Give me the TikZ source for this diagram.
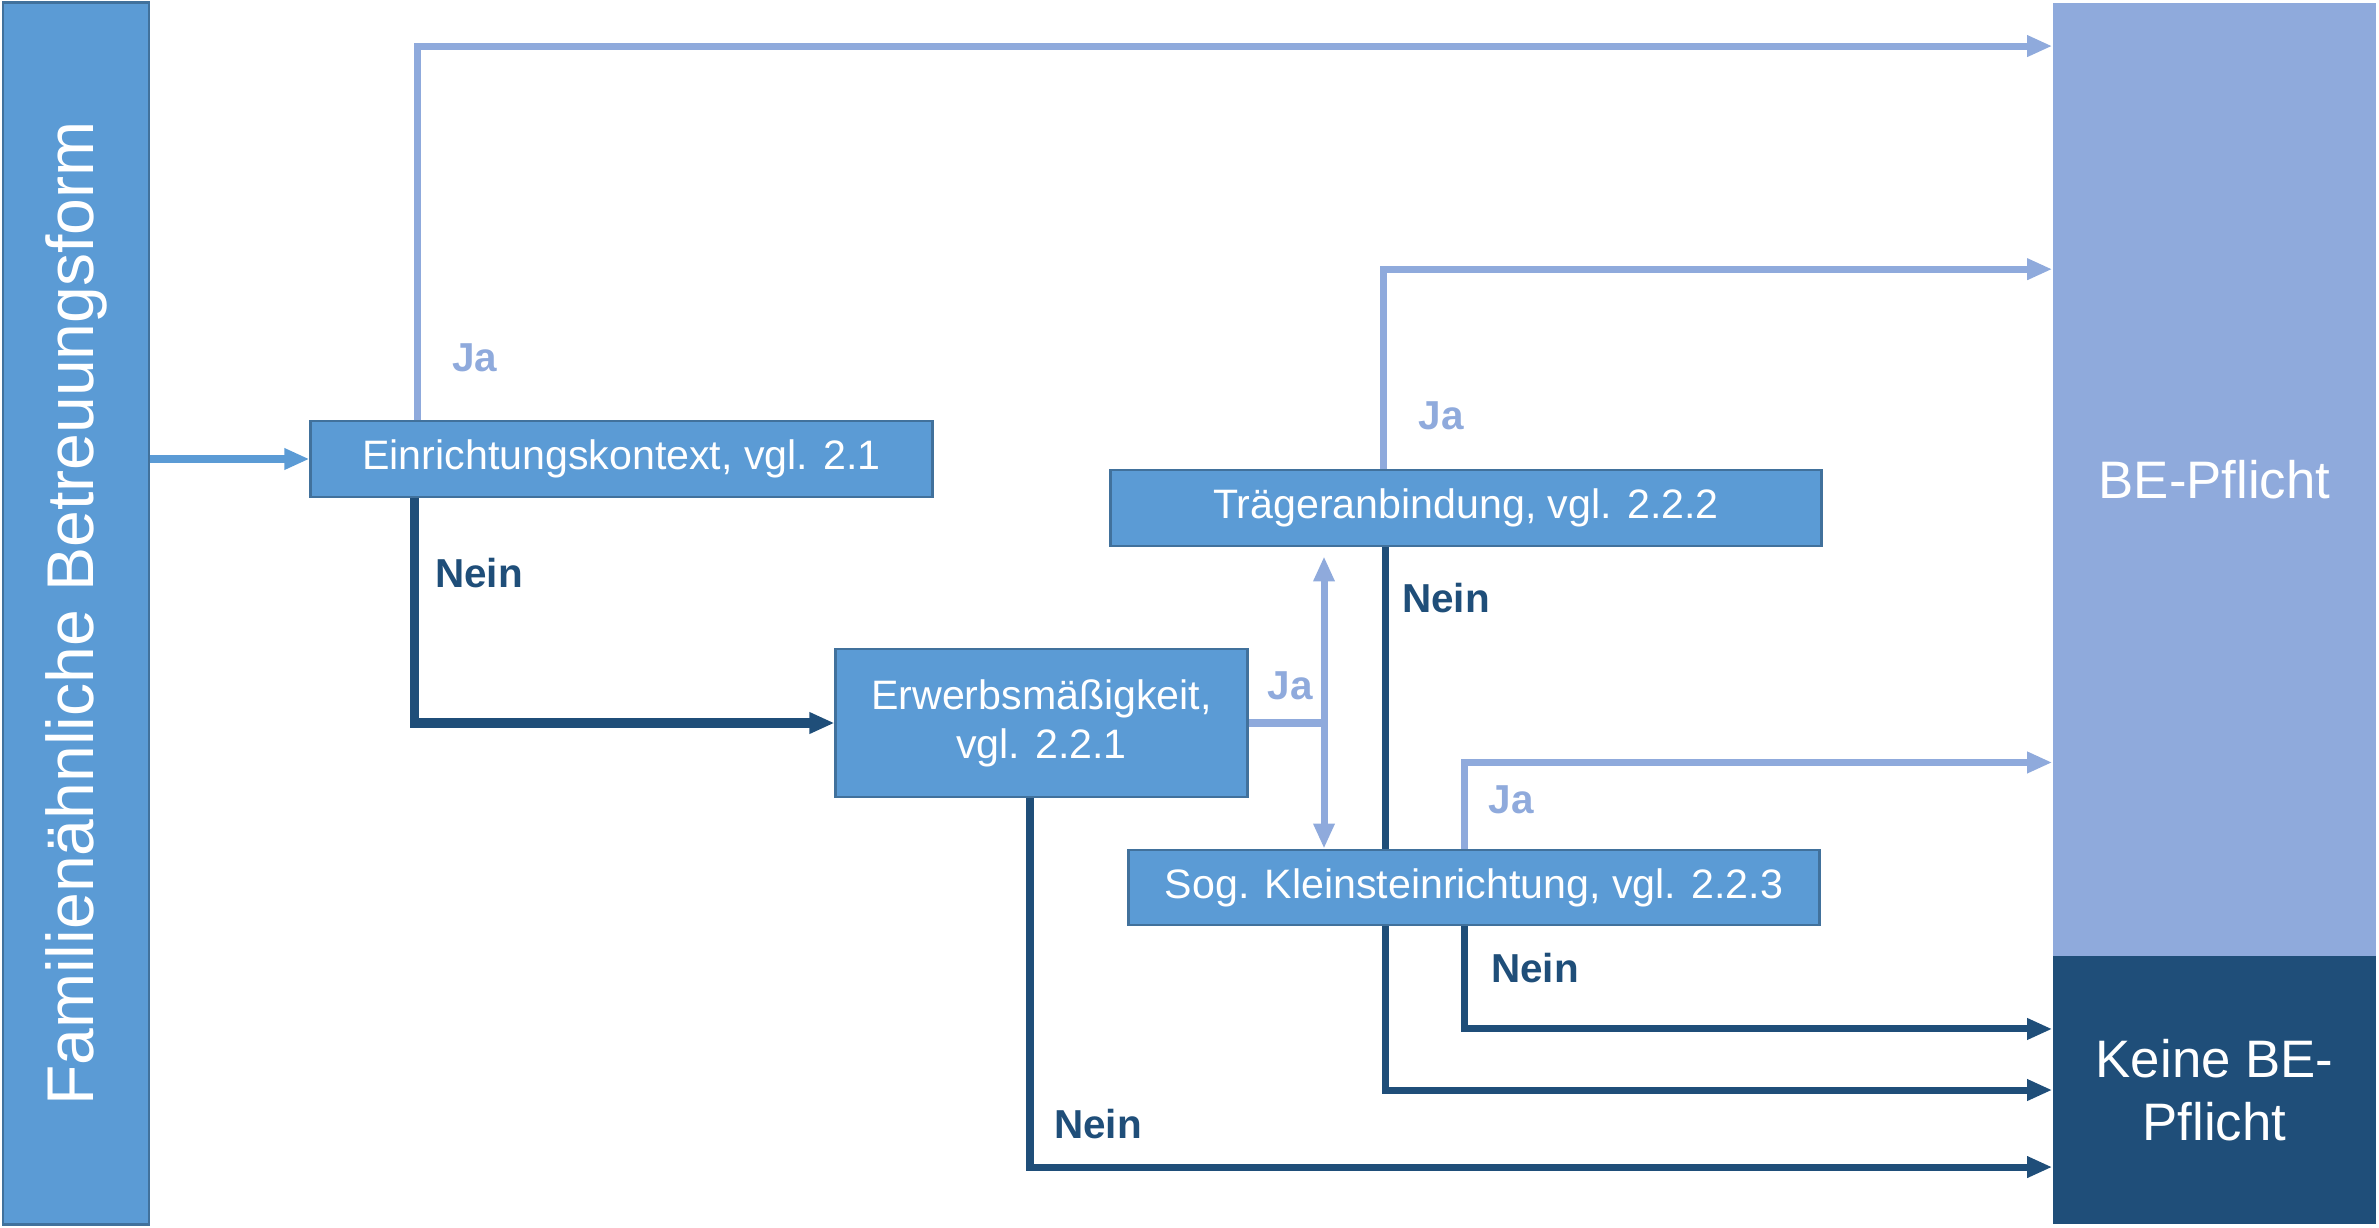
\documentclass[tikz,border=0pt]{standalone}
\usepackage{fontspec}
\setmainfont{Liberation Sans}
\usetikzlibrary{arrows.meta,backgrounds}

\definecolor{boxblue}{HTML}{5B9BD5}
\definecolor{boxedge}{HTML}{41719C}
\definecolor{jablue}{HTML}{8FAADC}
\definecolor{neinblue}{HTML}{1F4E79}

\tikzset{
    qbox/.style={draw=boxedge, line width=0.8pt, fill=boxblue, text=white, inner sep=0pt,
        align=center, font=\fontsize{11.7}{14}\selectfont},
    resbox/.style={text=white, inner sep=0pt, align=center, minimum width=3.23cm,
        font=\fontsize{15}{18}\selectfont},
    ja/.style={draw=jablue, line width=2pt, ->},
    nein/.style={draw=neinblue, line width=2pt, ->},
    jalabel/.style={text=jablue, font=\bfseries\fontsize{11.5}{13}\selectfont},
    neinlabel/.style={text=neinblue, font=\bfseries\fontsize{11.5}{13}\selectfont},
}

\begin{document}
\begin{tikzpicture}[x=0.01cm, y=-0.01cm, >={Triangle[length=0.25cm,width=0.2cm]}]
    \useasboundingbox (0,0) rectangle (2379,1227);
    % Kaesten
    \node [qbox, rotate=90, minimum width=12.21cm, minimum height=1.46cm,
        font=\fontsize{18.8}{22}\selectfont] (fam) at (76, 613.5) {Familienähnliche Betreuungsform};
    \node [qbox, minimum width=6.21cm, minimum height=0.76cm] (einr) at (621.5, 459) {Einrichtungskontext, vgl. 2.1};
    \node [qbox, minimum width=4.11cm, minimum height=1.48cm] (erw) at (1041.5, 723) {Erwerbsmäßigkeit,\\vgl. 2.2.1};
    \node [qbox, minimum width=7.10cm, minimum height=0.76cm] (trae) at (1466, 508) {Trägeranbindung, vgl. 2.2.2};
    \node [qbox, minimum width=6.90cm, minimum height=0.75cm] (klein) at (1474, 887.5) {Sog. Kleinsteinrichtung, vgl. 2.2.3};
    \node [resbox, fill=jablue, minimum height=9.53cm] (be) at (2214.5, 479.5) {BE-Pflicht};
    \node [resbox, fill=neinblue, minimum height=2.68cm] (keine) at (2214.5, 1090) {Keine BE-\\Pflicht};
    \coordinate (split) at (1324, 724);
    % Verbindungen
    \begin{scope}[on background layer]
        \draw [ja, draw=boxblue] (fam.south |- einr) -- (einr);
        \draw [ja] ([xshift=1.08cm]einr.north west) |- ([yshift=-0.44cm]be.north west);
        \draw [nein, line width=2.6pt] ([xshift=1.05cm]einr.south west) |- (erw.west);
        \draw [ja, -] (erw.east) -- (erw.east -| split);
        \draw [ja, <->, shorten <=0.09cm] (split |- trae.south) -- (split |- klein.north);
        \draw [nein] ([xshift=-0.115cm]erw.south) |- ([yshift=-0.77cm]keine.west);
        \draw [ja] ([xshift=2.74cm]trae.north west) |- ([yshift=-2.67cm]be.north west);
        \draw [nein] ([xshift=2.76cm]trae.south west) |- (keine.west);
        \draw [ja] ([xshift=3.37cm]klein.north west) |- ([yshift=-7.6cm]be.north west);
        \draw [nein] ([xshift=3.37cm]klein.south west) |- ([yshift=0.61cm]keine.west);
    \end{scope}
    % Beschriftungen
    \node [jalabel] (jaeinr) at (475, 358) {Ja};
    \node [neinlabel] (neineinr) at (479, 573) {Nein};
    \node [jalabel] (jaerw) at (1290, 686) {Ja};
    \node [neinlabel] (neinerw) at (1098, 1124) {Nein};
    \node [jalabel] (jatrae) at (1441, 416) {Ja};
    \node [neinlabel] (neintrae) at (1446, 598) {Nein};
    \node [jalabel] (jaklein) at (1511, 800) {Ja};
    \node [neinlabel] (neinklein) at (1535, 968) {Nein};
\end{tikzpicture}
\end{document}
